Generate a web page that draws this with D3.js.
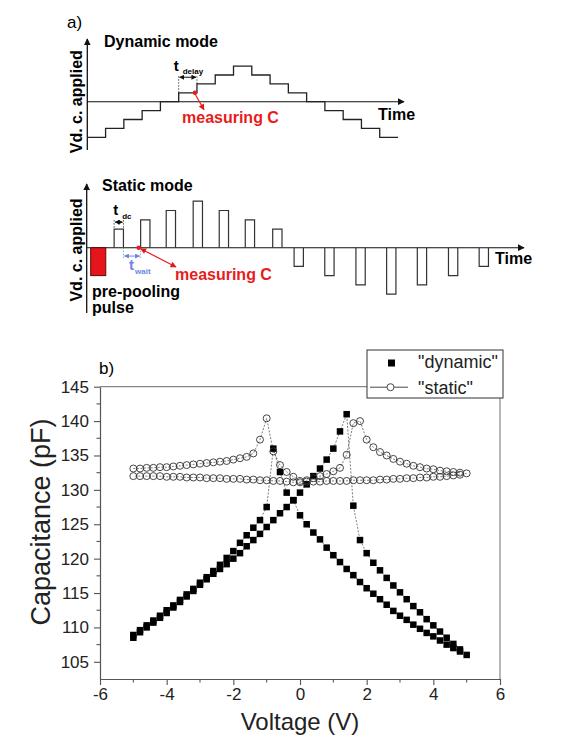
<!DOCTYPE html>
<html>
<head>
<meta charset="utf-8">
<script src="https://cdn.jsdelivr.net/npm/d3@7"></script>
<style>
  body { margin: 0; background: #fff; }
  svg { display: block; }
  text { font-family: "Liberation Sans", Arial, sans-serif; }
</style>
</head>
<body>
<svg id="fig" width="571" height="742"></svg>
<script>
// ---------- panel a: applied voltage sequences (schematic units) ----------
const dynamicLevels = [-4, -3, -2, -1, 0, 1, 2, 3, 4, 3, 2, 1, 0, -1, -2, -3, -4];
const staticLevels  = [2, 3, 4, 5, 4, 3, 2, -2, -3, -4, -5, -4, -3, -2];
const staticStarts  = [2.95, 5.8, 8.55, 11.45, 14.25, 17.05, 20.0, 22.3, 25.6, 28.95, 32.25, 35.55, 38.9, 42.2];
const prePulse      = [0.43, 2.05];
const prePulseLevel = -3;

// ---------- panel b: C-V sweeps ----------
const sweepUpV = [-5.0, -4.8, -4.6, -4.4, -4.2, -4.0, -3.8, -3.6, -3.4, -3.2, -3.0, -2.8, -2.6, -2.4, -2.2, -2.0,
  -1.8, -1.6, -1.4, -1.2, -1.0, -0.8, -0.6, -0.4, -0.2, 0.0, 0.2, 0.4, 0.6, 0.8, 1.0, 1.2, 1.4, 1.6, 1.8, 2.0,
  2.2, 2.4, 2.6, 2.8, 3.0, 3.2, 3.4, 3.6, 3.8, 4.0, 4.2, 4.4, 4.6, 4.8, 5.0];
const sweepDownV = [4.8, 4.6, 4.4, 4.2, 4.0, 3.8, 3.6, 3.4, 3.2, 3.0, 2.8, 2.6, 2.4, 2.2, 2.0, 1.8, 1.6, 1.4,
  1.2, 1.0, 0.8, 0.6, 0.4, 0.2, 0.0, -0.2, -0.4, -0.6, -0.8, -1.0, -1.2, -1.4, -1.6, -1.8, -2.0, -2.2, -2.4,
  -2.6, -2.8, -3.0, -3.2, -3.4, -3.6, -3.8, -4.0, -4.2, -4.4, -4.6, -4.8, -5.0];

const dynamicUpC = [108.5, 109.3, 110.0, 110.7, 111.4, 112.1, 112.9, 113.7, 114.5, 115.3, 116.2, 117.0, 117.8,
  118.5, 119.2, 120.0, 120.8, 121.8, 122.7, 123.6, 124.6, 125.6, 126.6, 127.5, 128.5, 129.6, 130.8, 132.0,
  133.1, 134.4, 136.0, 138.5, 141.0, 127.7, 122.7, 120.8, 119.4, 118.3, 117.2, 116.1, 115.1, 114.1, 113.1,
  112.2, 111.2, 110.3, 109.4, 108.5, 107.6, 106.8, 106.0];
const dynamicDownC = [106.5, 107.0, 107.5, 108.1, 108.7, 109.2, 109.8, 110.4, 111.1, 111.7, 112.4, 113.3, 114.1,
  114.9, 115.7, 116.6, 117.6, 118.5, 119.5, 120.5, 121.6, 122.8, 123.8, 125.0, 126.3, 128.5, 129.6, 132.6,
  136.0, 127.5, 125.6, 124.5, 123.4, 122.3, 121.1, 120.1, 119.1, 118.2, 117.3, 116.5, 115.6, 114.8, 114.0,
  113.2, 112.5, 111.7, 111.0, 110.3, 109.6, 108.9];

const staticUpC = [133.1, 133.1, 133.2, 133.2, 133.3, 133.3, 133.4, 133.5, 133.6, 133.7, 133.8, 133.9, 134.0,
  134.1, 134.2, 134.4, 134.6, 134.8, 135.3, 137.3, 140.4, 135.6, 133.6, 132.6, 131.9, 131.3, 131.2, 131.2,
  131.2, 131.3, 131.3, 131.3, 131.3, 131.4, 131.4, 131.4, 131.4, 131.5, 131.5, 131.6, 131.6, 131.7, 131.7,
  131.8, 131.8, 131.9, 131.9, 132.0, 132.1, 132.2, 132.4];
const staticDownC = [132.5, 132.6, 132.7, 132.8, 133.0, 133.1, 133.3, 133.5, 133.8, 134.1, 134.5, 135.0, 135.5,
  136.2, 137.3, 140.0, 139.7, 135.1, 133.2, 132.7, 132.3, 132.0, 131.7, 131.4, 131.1, 131.1, 131.2, 131.3,
  131.3, 131.4, 131.4, 131.5, 131.5, 131.6, 131.6, 131.6, 131.7, 131.7, 131.7, 131.8, 131.8, 131.8, 131.9,
  131.9, 131.9, 132.0, 132.0, 132.0, 132.0, 132.0];

const xTicks = [-6, -4, -2, 0, 2, 4, 6];
const yTicks = [105, 110, 115, 120, 125, 130, 135, 140, 145];

const svg = d3.select("#fig");
const defs = svg.append("defs");
function marker(id, color, w, h) {
  defs.append("marker").attr("id", id).attr("viewBox", "0 0 10 10")
    .attr("refX", 9).attr("refY", 5).attr("markerWidth", w).attr("markerHeight", h)
    .attr("markerUnits", "userSpaceOnUse").attr("orient", "auto-start-reverse")
    .append("path").attr("d", "M0,0 L10,5 L0,10 z").attr("fill", color);
}
marker("axArrow", "#111", 7, 7);
marker("redArrow", "#e01818", 7, 6);
marker("blkSmall", "#111", 5, 5);
marker("bluSmall", "#6f86e0", 5, 5);

const red = "#e81c1c";
const blue = "#6f86e0";

// ================= panel a, dynamic mode =================
const dx = d3.scaleLinear().domain([0, 17]).range([87.3, 398]);
const dy = d3.scaleLinear().domain([-1, 1]).range([101.7 + 8.9, 101.7 - 8.9]);

svg.append("text").attr("x", 67).attr("y", 28).attr("font-size", 17).text("a)");
svg.append("text").attr("x", 104).attr("y", 47).attr("font-size", 16).attr("font-weight", "bold").text("Dynamic mode");

// axes
svg.append("line").attr("x1", dx(0)).attr("x2", dx(0)).attr("y1", 150).attr("y2", 39)
  .attr("stroke", "#111").attr("stroke-width", 1.3).attr("marker-end", "url(#axArrow)");
svg.append("line").attr("x1", dx(0)).attr("x2", 404).attr("y1", dy(0)).attr("y2", dy(0))
  .attr("stroke", "#111").attr("stroke-width", 1.1).attr("marker-end", "url(#axArrow)");
svg.append("text").attr("x", 378).attr("y", 120).attr("font-size", 16).attr("font-weight", "bold").text("Time");
svg.append("text").attr("transform", `translate(82,${dy(0)}) rotate(-90)`).attr("text-anchor", "middle")
  .attr("font-size", 16).attr("font-weight", "bold").text("Vd. c. applied");

// staircase
const stairPts = dynamicLevels.map((l, i) => [i, l]);
stairPts.push([dynamicLevels.length, dynamicLevels[dynamicLevels.length - 1]]);
svg.append("path").attr("d", d3.line().x(d => dx(d[0])).y(d => dy(d[1])).curve(d3.curveStepAfter)(stairPts))
  .attr("fill", "none").attr("stroke", "#222").attr("stroke-width", 1.3);

// t_delay annotation
const tdY = dy(2.75);
svg.append("line").attr("x1", dx(5)).attr("x2", dx(5)).attr("y1", tdY - 1).attr("y2", dy(0))
  .attr("stroke", "#222").attr("stroke-width", 0.8).attr("stroke-dasharray", "1.5,1.5");
svg.append("line").attr("x1", dx(6)).attr("x2", dx(6)).attr("y1", tdY - 1).attr("y2", dy(2))
  .attr("stroke", "#222").attr("stroke-width", 0.8).attr("stroke-dasharray", "1.5,1.5");
svg.append("line").attr("x1", dx(5) + 1).attr("x2", dx(6) - 1).attr("y1", tdY).attr("y2", tdY)
  .attr("stroke", "#111").attr("stroke-width", 1).attr("marker-start", "url(#blkSmall)").attr("marker-end", "url(#blkSmall)");
svg.append("text").attr("x", dx(5) - 5).attr("y", tdY - 6).attr("font-size", 15).attr("font-weight", "bold").text("t");
svg.append("text").attr("x", dx(5) + 4).attr("y", tdY - 3).attr("font-size", 8).attr("font-weight", "bold").text("delay");

// measuring point
svg.append("line").attr("x1", dx(6) - 2).attr("y1", dy(1) + 1).attr("x2", dx(6) + 7).attr("y2", dy(1) + 17)
  .attr("stroke", red).attr("stroke-width", 1.2).attr("marker-end", "url(#redArrow)");
svg.append("circle").attr("cx", dx(6) - 2).attr("cy", dy(1)).attr("r", 2.2).attr("fill", red);
svg.append("text").attr("x", 182).attr("y", 123).attr("font-size", 16).attr("font-weight", "bold")
  .attr("fill", red).text("measuring C");

// ================= panel a, static mode =================
const sx = d3.scaleLinear().domain([0, 1]).range([86.7, 96.0]);
const sy = d3.scaleLinear().domain([0, 1]).range([247.7, 238.4]);

svg.append("text").attr("x", 102).attr("y", 191).attr("font-size", 16).attr("font-weight", "bold").text("Static mode");
svg.append("line").attr("x1", sx(0)).attr("x2", sx(0)).attr("y1", 313).attr("y2", 184)
  .attr("stroke", "#111").attr("stroke-width", 1.3).attr("marker-end", "url(#axArrow)");
svg.append("line").attr("x1", sx(0)).attr("x2", 524).attr("y1", sy(0)).attr("y2", sy(0))
  .attr("stroke", "#111").attr("stroke-width", 1.1).attr("marker-end", "url(#axArrow)");
svg.append("text").attr("x", 495).attr("y", 264).attr("font-size", 16).attr("font-weight", "bold").text("Time");
svg.append("text").attr("transform", `translate(82,250) rotate(-90)`).attr("text-anchor", "middle")
  .attr("font-size", 16).attr("font-weight", "bold").text("Vd. c. applied");

// pre-poling pulse
svg.append("rect").attr("x", sx(prePulse[0])).attr("width", sx(prePulse[1]) - sx(prePulse[0]))
  .attr("y", sy(0)).attr("height", sy(prePulseLevel) - sy(0))
  .attr("fill", "#e8141c").attr("stroke", "#5a0a0a").attr("stroke-width", 1);

// measurement pulses
svg.append("g").selectAll("path").data(staticLevels).join("path")
  .attr("d", (l, i) => {
    const x0 = sx(staticStarts[i]), x1 = sx(staticStarts[i] + 1);
    return `M${x0},${sy(0)} L${x0},${sy(l)} L${x1},${sy(l)} L${x1},${sy(0)}`;
  })
  .attr("fill", "none").attr("stroke", "#333").attr("stroke-width", 1.2);

// t_dc annotation
const p0 = staticStarts[0];
const tdcY = sy(staticLevels[0] + 0.75);
[p0, p0 + 1].forEach(t => {
  svg.append("line").attr("x1", sx(t)).attr("x2", sx(t)).attr("y1", tdcY - 2).attr("y2", sy(staticLevels[0]))
    .attr("stroke", "#222").attr("stroke-width", 0.8).attr("stroke-dasharray", "1.5,1.5");
});
svg.append("line").attr("x1", sx(p0) + 1).attr("x2", sx(p0 + 1) - 1).attr("y1", tdcY).attr("y2", tdcY)
  .attr("stroke", "#111").attr("stroke-width", 1).attr("marker-start", "url(#blkSmall)").attr("marker-end", "url(#blkSmall)");
svg.append("text").attr("x", sx(p0) - 1).attr("y", 215).attr("font-size", 15).attr("font-weight", "bold").text("t");
svg.append("text").attr("x", sx(p0) + 8).attr("y", 219).attr("font-size", 8).attr("font-weight", "bold").text("dc");

// t_wait annotation
const twY = sy(-0.9);
[p0 + 1, staticStarts[1]].forEach(t => {
  svg.append("line").attr("x1", sx(t)).attr("x2", sx(t)).attr("y1", sy(0)).attr("y2", twY + 2)
    .attr("stroke", blue).attr("stroke-width", 0.8).attr("stroke-dasharray", "1.5,1.5");
});
svg.append("line").attr("x1", sx(p0 + 1) + 1).attr("x2", sx(staticStarts[1]) - 1).attr("y1", twY).attr("y2", twY)
  .attr("stroke", blue).attr("stroke-width", 1).attr("marker-start", "url(#bluSmall)").attr("marker-end", "url(#bluSmall)");
svg.append("text").attr("x", 129).attr("y", 270).attr("font-size", 15).attr("font-weight", "bold").attr("fill", blue).text("t");
svg.append("text").attr("x", 135).attr("y", 274).attr("font-size", 8).attr("font-weight", "bold").attr("fill", blue).text("wait");

// measuring point
const mX = sx(staticStarts[1]) - 2;
svg.append("line").attr("x1", mX + 2).attr("y1", sy(0) + 1).attr("x2", 176).attr("y2", 267)
  .attr("stroke", red).attr("stroke-width", 1.2)
  .attr("marker-start", "url(#redArrow)").attr("marker-end", "url(#redArrow)");
svg.append("circle").attr("cx", mX).attr("cy", sy(0)).attr("r", 2.2).attr("fill", red);
svg.append("text").attr("x", 175).attr("y", 280).attr("font-size", 16).attr("font-weight", "bold")
  .attr("fill", red).text("measuring C");
svg.append("text").attr("x", 92).attr("y", 297).attr("font-size", 16).attr("font-weight", "bold").text("pre-pooling");
svg.append("text").attr("x", 92).attr("y", 313).attr("font-size", 16).attr("font-weight", "bold").text("pulse");

// ================= panel b: C-V curves =================
const x = d3.scaleLinear().domain([-6, 6]).range([100, 500]);
const y = d3.scaleLinear().domain([102.5, 145]).range([679, 386.7]);
const axisColor = "#555";

svg.append("text").attr("x", 99).attr("y", 374).attr("font-size", 17).text("b)");

// frame
svg.append("path").attr("d", `M${x(-6)},${y(145)} H${x(6)} V${y(102.5)}`)
  .attr("fill", "none").attr("stroke", "#888").attr("stroke-width", 1.2);

// axes
const gx = svg.append("g").attr("transform", `translate(0,${y(102.5)})`)
  .call(d3.axisBottom(x).tickValues(xTicks).tickFormat(d => String(d)).tickSize(6).tickSizeOuter(0).tickPadding(3));
gx.append("g").selectAll("line").data([-5, -3, -1, 1, 3, 5]).join("line")
  .attr("x1", d => x(d)).attr("x2", d => x(d)).attr("y1", 0).attr("y2", 3.5);
const gy = svg.append("g").attr("transform", `translate(${x(-6)},0)`)
  .call(d3.axisLeft(y).tickValues(yTicks).tickFormat(d => String(d)).tickSize(6).tickSizeOuter(0).tickPadding(5));
gy.append("g").selectAll("line").data([107.5, 112.5, 117.5, 122.5, 127.5, 132.5, 137.5, 142.5]).join("line")
  .attr("x1", 0).attr("x2", -3.5).attr("y1", d => y(d)).attr("y2", d => y(d));
[gx, gy].forEach(g => {
  g.select(".domain").attr("stroke", axisColor).attr("stroke-width", 1.2);
  g.selectAll("line").attr("stroke", axisColor).attr("stroke-width", 1.1);
  g.selectAll("text").attr("font-size", 17).attr("fill", "#222")
    .attr("font-family", '"Liberation Sans", Arial, sans-serif');
});

svg.append("text").attr("x", 300).attr("y", 730).attr("text-anchor", "middle").attr("font-size", 24)
  .attr("fill", "#222").text("Voltage (V)");
svg.append("text").attr("transform", "translate(50,522) rotate(-90)").attr("text-anchor", "middle")
  .attr("font-size", 27).attr("fill", "#222").text("Capacitance (pF)");

// series
const series = [
  { v: sweepUpV, c: dynamicUpC, kind: "dynamic" },
  { v: sweepDownV, c: dynamicDownC, kind: "dynamic" },
  { v: sweepUpV, c: staticUpC, kind: "static" },
  { v: sweepDownV, c: staticDownC, kind: "static" }
];
const line = d3.line().x(d => x(d[0])).y(d => y(d[1]));
series.forEach(s => {
  const pts = s.v.map((v, i) => [v, s.c[i]]);
  svg.append("path").attr("d", line(pts)).attr("fill", "none")
    .attr("stroke", "#444").attr("stroke-width", 0.7).attr("stroke-dasharray", "2,1.5");
});
const sq = 6.5;
series.filter(s => s.kind === "dynamic").forEach(s => {
  svg.append("g").selectAll("rect").data(s.v.map((v, i) => [v, s.c[i]])).join("rect")
    .attr("x", d => x(d[0]) - sq / 2).attr("y", d => y(d[1]) - sq / 2)
    .attr("width", sq).attr("height", sq).attr("fill", "#000");
});
series.filter(s => s.kind === "static").forEach(s => {
  svg.append("g").selectAll("circle").data(s.v.map((v, i) => [v, s.c[i]])).join("circle")
    .attr("cx", d => x(d[0])).attr("cy", d => y(d[1])).attr("r", 3.5)
    .attr("fill", "none").attr("stroke", "#333").attr("stroke-width", 0.9);
});

// legend
const lg = svg.append("g");
lg.append("rect").attr("x", 367).attr("y", 350).attr("width", 136).attr("height", 48)
  .attr("fill", "#fff").attr("stroke", "#333").attr("stroke-width", 1);
lg.append("rect").attr("x", 391.5 - 3.5).attr("y", 363 - 3.5).attr("width", 7).attr("height", 7).attr("fill", "#000");
lg.append("text").attr("x", 418).attr("y", 368).attr("font-size", 18).attr("fill", "#222").text('"dynamic"');
lg.append("line").attr("x1", 370).attr("x2", 408).attr("y1", y(145) + 0.5).attr("y2", y(145) + 0.5)
  .attr("stroke", "#333").attr("stroke-width", 0.9);
lg.append("circle").attr("cx", 390.5).attr("cy", y(145) + 0.5).attr("r", 3.5)
  .attr("fill", "#fff").attr("stroke", "#333").attr("stroke-width", 0.9);
lg.append("text").attr("x", 418).attr("y", 394).attr("font-size", 18).attr("fill", "#222").text('"static"');
</script>
</body>
</html>
